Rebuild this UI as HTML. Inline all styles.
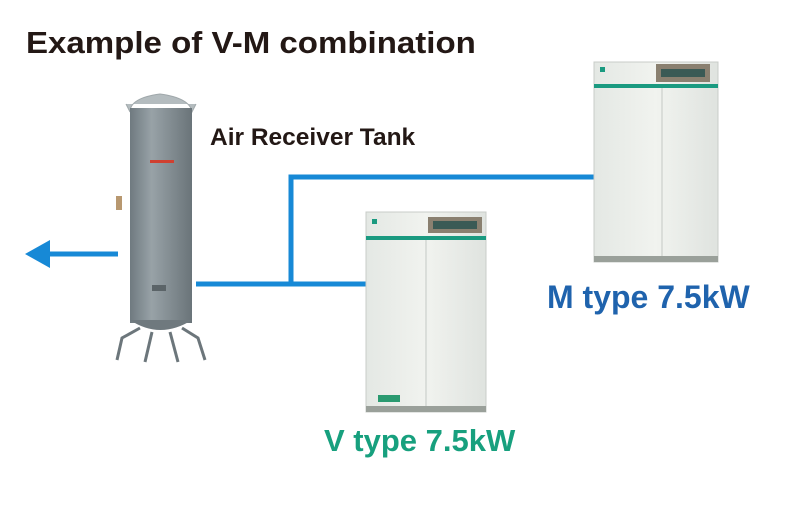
<!DOCTYPE html>
<html><head><meta charset="utf-8"><style>
body{margin:0;width:800px;height:510px;background:#fff;overflow:hidden;position:relative;font-family:"Liberation Sans",Arial,sans-serif}
.t{position:absolute;font-weight:bold;white-space:nowrap;line-height:1;transform-origin:0 0}
</style></head><body>
<svg width="800" height="510" style="position:absolute;left:0;top:0">
<defs>
<linearGradient id="tk" x1="0" x2="1"><stop offset="0" stop-color="#6f7a80"/><stop offset="0.35" stop-color="#98a2a7"/><stop offset="1" stop-color="#6a7479"/></linearGradient>
<linearGradient id="cab" x1="0" x2="1"><stop offset="0" stop-color="#e4e8e4"/><stop offset="0.5" stop-color="#f1f3ef"/><stop offset="1" stop-color="#dfe3df"/></linearGradient>
</defs>
<g stroke="#1789d6" stroke-width="5" fill="none">
<line x1="118" y1="254" x2="46" y2="254"/>
<polyline points="196,284 366,284"/>
<polyline points="291,284 291,177 594,177"/>
</g>
<polygon points="25,254 50,240 50,268" fill="#1789d6"/>
<g>
<path d="M126 104 L130 112 Q130 98 160 94 Q190 98 192 112 L196 104" fill="#b4bcbf" stroke="#a0a8ab"/>
<rect x="130" y="108" width="62" height="215" fill="url(#tk)"/>
<path d="M130 320 Q160 340 192 320 Z" fill="#6f797e"/>
<g stroke="#6c767b" stroke-width="3" fill="none">
<path d="M140 328 L122 338 L117 360"/>
<path d="M182 328 L198 338 L205 360"/>
<path d="M152 332 L145 362"/>
<path d="M170 332 L178 362"/>
</g>
<rect x="150" y="160" width="24" height="3" fill="#d04030"/>
<rect x="152" y="285" width="14" height="6" fill="#5b6468"/>
<rect x="116" y="196" width="6" height="14" fill="#b89870"/>
</g>
<g>
<rect x="366" y="212" width="120" height="200" fill="url(#cab)" stroke="#c8ccc8"/>
<rect x="366" y="236" width="120" height="4" fill="#1a9a80"/>
<rect x="428" y="217" width="54" height="16" fill="#8a8070"/>
<rect x="433" y="221" width="44" height="8" fill="#3a5a55"/>
<line x1="426" y1="240" x2="426" y2="408" stroke="#c4c8c4"/>
<rect x="366" y="406" width="120" height="6" fill="#9aa09a"/>
<rect x="378" y="395" width="22" height="7" fill="#2a9a70"/>
<rect x="372" y="219" width="5" height="5" fill="#1a9a80"/>
</g>
<g>
<rect x="594" y="62" width="124" height="200" fill="url(#cab)" stroke="#c8ccc8"/>
<rect x="594" y="84" width="124" height="4" fill="#1a9a80"/>
<rect x="656" y="64" width="54" height="18" fill="#8a8070"/>
<rect x="661" y="69" width="44" height="8" fill="#3a5a55"/>
<line x1="662" y1="88" x2="662" y2="256" stroke="#c4c8c4"/>
<rect x="594" y="256" width="124" height="6" fill="#9aa09a"/>
<rect x="600" y="67" width="5" height="5" fill="#1a9a80"/>
</g>
</svg>
<div class="t" style="left:26px;top:27px;font-size:31px;color:#231815;transform:scaleX(1.066)">Example of V-M combination</div>
<div class="t" style="left:210px;top:126px;font-size:24.5px;color:#231815">Air Receiver Tank</div>
<div class="t" style="left:547px;top:281px;font-size:32px;color:#1f63ad">M type 7.5kW</div>
<div class="t" style="left:324px;top:425px;font-size:31px;color:#17a07e">V type 7.5kW</div>
</body></html>
